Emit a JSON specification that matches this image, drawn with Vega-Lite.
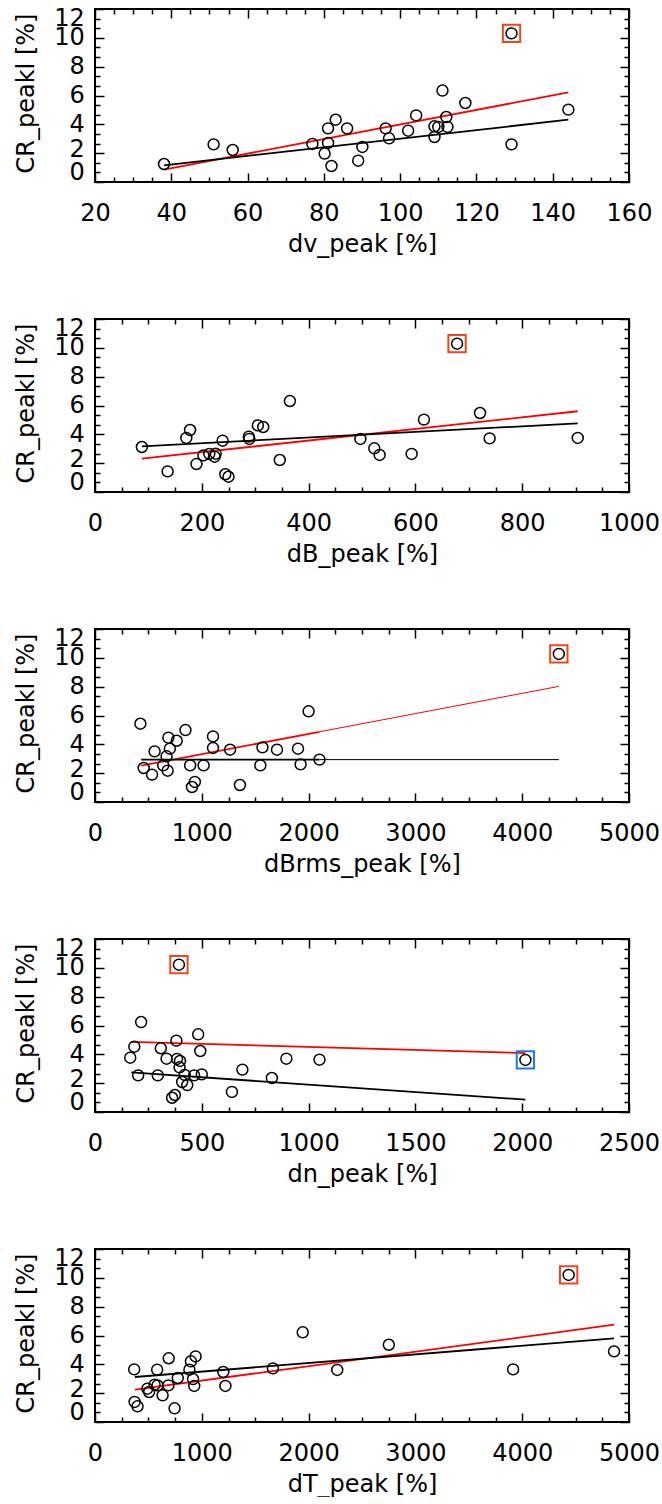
{
"$schema": "https://vega.github.io/schema/vega-lite/v6.json",
"background": "white",
"padding": {"left": 12, "top": 5, "right": 0, "bottom": 0},
"spacing": 137,
"bounds": "flush",
"config": {
 "view": {"stroke": "black", "strokeWidth": 2},
 "axis": {"domain": false, "grid": false, "tickColor": "black", "tickWidth": 1.5, "labelFont": "DejaVu Sans", "labelFontSize": 24, "labelColor": "black", "titleFont": "DejaVu Sans", "titleFontSize": 24, "titleFontWeight": "normal", "titleColor": "black", "format": "d"}
},
"datasets": {
 "p1": [
  {"x":38.1,"y":1.25},{"x":51.1,"y":2.61},{"x":56.1,"y":2.22},{"x":77.0,"y":2.64},{"x":81.1,"y":2.71},{"x":80.2,"y":1.97},{"x":82.0,"y":1.11},{"x":81.1,"y":3.72},{"x":83.1,"y":4.32},{"x":86.1,"y":3.72},{"x":89.0,"y":1.48},{"x":90.1,"y":2.43},{"x":96.2,"y":3.72},{"x":97.1,"y":3.03},{"x":102.1,"y":3.56},{"x":104.2,"y":4.62},{"x":109.0,"y":3.12},{"x":109.0,"y":3.86},{"x":110.0,"y":3.82},{"x":112.4,"y":3.82},{"x":112.1,"y":4.51},{"x":111.1,"y":6.34},{"x":117.1,"y":5.48},{"x":129.2,"y":10.31,"flag":"red"},{"x":129.2,"y":2.61},{"x":144.1,"y":5.02}
 ],
 "l1": [
  {"fit":"red","part":"data","x":38.1,"y":0.86},{"fit":"red","part":"data","x":144.1,"y":6.22},
  {"fit":"black","part":"data","x":38.1,"y":1.16},{"fit":"black","part":"data","x":144.1,"y":4.32}
 ],
 "p2": [
  {"x":87.8,"y":3.12},{"x":136,"y":1.43},{"x":171,"y":3.75},{"x":178,"y":4.30},{"x":190,"y":1.94},{"x":203,"y":2.54},{"x":214,"y":2.64},{"x":224,"y":2.45},{"x":226,"y":2.66},{"x":239,"y":3.56},{"x":244,"y":1.23},{"x":250,"y":1.06},{"x":288,"y":3.84},{"x":289,"y":3.68},{"x":305,"y":4.62},{"x":315,"y":4.51},{"x":346,"y":2.22},{"x":365,"y":6.31},{"x":497,"y":3.68},{"x":523,"y":3.03},{"x":533,"y":2.57},{"x":593,"y":2.64},{"x":616,"y":5.02},{"x":678,"y":10.29,"flag":"red"},{"x":721,"y":5.48},{"x":739,"y":3.72},{"x":904,"y":3.75}
 ],
 "l2": [
  {"fit":"red","part":"data","x":87.8,"y":2.31},{"fit":"red","part":"data","x":904,"y":5.60},
  {"fit":"black","part":"data","x":87.8,"y":3.17},{"fit":"black","part":"data","x":904,"y":4.76}
 ],
 "p3": [
  {"x":425,"y":5.43},{"x":456,"y":2.36},{"x":534,"y":1.90},{"x":558,"y":3.51},{"x":639,"y":2.54},{"x":670,"y":3.17},{"x":680,"y":2.17},{"x":687,"y":4.46},{"x":701,"y":3.70},{"x":765,"y":4.25},{"x":847,"y":4.99},{"x":891,"y":2.54},{"x":908,"y":1.04},{"x":935,"y":1.39},{"x":1017,"y":2.54},{"x":1105,"y":4.55},{"x":1105,"y":3.75},{"x":1265,"y":3.63},{"x":1357,"y":1.18},{"x":1548,"y":2.54},{"x":1568,"y":3.79},{"x":1704,"y":3.63},{"x":1901,"y":3.70},{"x":1925,"y":2.61},{"x":2000,"y":6.29},{"x":2102,"y":2.94},{"x":4343,"y":10.27,"flag":"red"}
 ],
 "l3": [
  {"fit":"red","part":"data","x":432,"y":2.52},{"fit":"red","part":"data","x":2102,"y":4.87},
  {"fit":"red","part":"full","x":2102,"y":4.87},{"fit":"red","part":"full","x":4343,"y":8.02},
  {"fit":"black","part":"data","x":432,"y":2.94},{"fit":"black","part":"data","x":2102,"y":2.94},
  {"fit":"black","part":"full","x":2102,"y":2.94},{"fit":"black","part":"full","x":4343,"y":2.94}
 ],
 "p4": [
  {"x":165,"y":3.77},{"x":184,"y":4.53},{"x":202,"y":2.54},{"x":216,"y":6.24},{"x":294,"y":2.54},{"x":308,"y":4.42},{"x":335,"y":3.70},{"x":361,"y":0.99},{"x":374,"y":1.18},{"x":381,"y":4.95},{"x":384,"y":3.68},{"x":393,"y":10.22,"flag":"red"},{"x":398,"y":3.54},{"x":396,"y":3.10},{"x":408,"y":2.08},{"x":420,"y":2.57},{"x":432,"y":1.87},{"x":464,"y":2.54},{"x":483,"y":5.39},{"x":493,"y":4.23},{"x":500,"y":2.61},{"x":641,"y":1.39},{"x":690,"y":2.94},{"x":828,"y":2.36},{"x":896,"y":3.70},{"x":1051,"y":3.63},{"x":2015,"y":3.61,"flag":"blue"}
 ],
 "l4": [
  {"fit":"red","part":"data","x":170,"y":4.86},{"fit":"red","part":"data","x":2015,"y":4.09},
  {"fit":"black","part":"data","x":170,"y":2.75},{"fit":"black","part":"data","x":2015,"y":0.86}
 ],
 "p5": [
  {"x":367,"y":3.65},{"x":371,"y":1.39},{"x":398,"y":1.09},{"x":490,"y":2.31},{"x":507,"y":2.08},{"x":558,"y":2.59},{"x":585,"y":2.54},{"x":582,"y":3.63},{"x":633,"y":1.85},{"x":687,"y":2.54},{"x":690,"y":4.42},{"x":745,"y":0.95},{"x":775,"y":3.05},{"x":884,"y":3.63},{"x":898,"y":4.21},{"x":918,"y":2.98},{"x":929,"y":2.50},{"x":942,"y":4.55},{"x":1201,"y":3.47},{"x":1221,"y":2.50},{"x":1666,"y":3.72},{"x":1945,"y":6.22},{"x":2268,"y":3.61},{"x":2751,"y":5.36},{"x":3915,"y":3.65},{"x":4435,"y":10.20,"flag":"red"},{"x":4860,"y":4.90}
 ],
 "l5": [
  {"fit":"red","part":"data","x":374,"y":2.24},{"fit":"red","part":"data","x":4860,"y":6.75},
  {"fit":"black","part":"data","x":374,"y":3.12},{"fit":"black","part":"data","x":4860,"y":5.80}
 ]
},
"vconcat": [
 {
  "width": 534, "height": 173,
  "resolve": {"axis": {"x": "independent", "y": "independent"}},
  "layer": [
   {"data": {"name": "l1"}, "transform": [{"filter": "datum.fit == 'red'"}],
    "mark": {"type": "line", "color": "#ff0000"},
    "encoding": {
     "x": {"field": "x", "type": "quantitative", "scale": {"domain": [20, 160], "nice": false, "zero": false}, "axis": {"orient": "bottom", "values": [25,30,35,45,50,55,65,70,75,85,90,95,105,110,115,125,130,135,145,150,155], "tickSize": -5, "labels": false, "title": null}},
     "y": {"field": "y", "type": "quantitative", "scale": {"domain": [0, 12], "nice": false, "zero": false}, "axis": {"orient": "left", "values": [0.6667,1.3333,2.6667,3.3333,4.6667,5.3333,6.6667,7.3333,8.6667,9.3333,10.6667,11.3333], "tickSize": -5, "labels": false, "title": null}},
     "strokeWidth": {"field": "part", "type": "nominal", "scale": {"domain": ["data", "full"], "range": [1.8, 1]}, "legend": null}
    }},
   {"data": {"name": "l1"}, "transform": [{"filter": "datum.fit == 'black'"}],
    "mark": {"type": "line", "color": "#000000"},
    "encoding": {
     "x": {"field": "x", "type": "quantitative", "scale": {"domain": [20, 160], "nice": false, "zero": false}, "axis": {"orient": "top", "values": [20,40,60,80,100,120,140,160], "tickSize": -9, "labels": false, "title": null}},
     "y": {"field": "y", "type": "quantitative", "scale": {"domain": [0, 12], "nice": false, "zero": false}, "axis": {"orient": "right", "values": [0,2,4,6,8,10,12], "tickSize": -9, "labels": false, "title": null}},
     "strokeWidth": {"field": "part", "type": "nominal", "scale": {"domain": ["data", "full"], "range": [1.8, 1]}, "legend": null}
    }},
   {"data": {"name": "p1"},
    "mark": {"type": "point", "shape": "circle", "filled": false, "color": "#000000", "opacity": 1, "strokeWidth": 1.5, "size": 120},
    "encoding": {
     "x": {"field": "x", "type": "quantitative", "scale": {"domain": [20, 160], "nice": false, "zero": false}, "axis": {"orient": "bottom", "values": [20,40,60,80,100,120,140,160], "tickSize": -9, "labelPadding": 28.5, "labelFlush": false, "labelOverlap": false, "labelBound": false, "title": "dv_peak [%]", "titleY": 50, "titleBaseline": "top"}},
     "y": {"field": "y", "type": "quantitative", "scale": {"domain": [0, 12], "nice": false, "zero": false}, "axis": {"orient": "left", "values": [0,2,4,6,8,10,12], "tickSize": -9, "labelPadding": 19.7, "labelOffset": {"expr": "datum.value==12 ? 9 : datum.value==0 ? -10 : datum.value==2 ? -4 : 0"}, "labelOverlap": false, "title": "CR_peakl [%]", "titleX": -62, "titleY": 84, "titleAngle": -90, "titleAlign": "center", "titleBaseline": "alphabetic"}}
    }},
   {"data": {"name": "p1"}, "transform": [{"filter": "isValid(datum.flag)"}],
    "mark": {"type": "point", "shape": "square", "filled": false, "opacity": 1, "strokeWidth": 2, "size": 300},
    "encoding": {
     "x": {"field": "x", "type": "quantitative", "scale": {"domain": [20, 160], "nice": false, "zero": false}, "axis": {"orient": "top", "values": [25,30,35,45,50,55,65,70,75,85,90,95,105,110,115,125,130,135,145,150,155], "tickSize": -5, "labels": false, "title": null}},
     "y": {"field": "y", "type": "quantitative", "scale": {"domain": [0, 12], "nice": false, "zero": false}, "axis": {"orient": "right", "values": [0.6667,1.3333,2.6667,3.3333,4.6667,5.3333,6.6667,7.3333,8.6667,9.3333,10.6667,11.3333], "tickSize": -5, "labels": false, "title": null}},
     "color": {"field": "flag", "type": "nominal", "scale": {"domain": ["red", "blue"], "range": ["#f2441d", "#1f77f0"]}, "legend": null}
    }}
  ]
 },
 {
  "width": 534, "height": 173,
  "resolve": {"axis": {"x": "independent", "y": "independent"}},
  "layer": [
   {"data": {"name": "l2"}, "transform": [{"filter": "datum.fit == 'red'"}],
    "mark": {"type": "line", "color": "#ff0000"},
    "encoding": {
     "x": {"field": "x", "type": "quantitative", "scale": {"domain": [0, 1000], "nice": false, "zero": false}, "axis": {"orient": "bottom", "values": [50,100,150,250,300,350,450,500,550,650,700,750,850,900,950], "tickSize": -5, "labels": false, "title": null}},
     "y": {"field": "y", "type": "quantitative", "scale": {"domain": [0, 12], "nice": false, "zero": false}, "axis": {"orient": "left", "values": [0.6667,1.3333,2.6667,3.3333,4.6667,5.3333,6.6667,7.3333,8.6667,9.3333,10.6667,11.3333], "tickSize": -5, "labels": false, "title": null}},
     "strokeWidth": {"field": "part", "type": "nominal", "scale": {"domain": ["data", "full"], "range": [1.8, 1]}, "legend": null}
    }},
   {"data": {"name": "l2"}, "transform": [{"filter": "datum.fit == 'black'"}],
    "mark": {"type": "line", "color": "#000000"},
    "encoding": {
     "x": {"field": "x", "type": "quantitative", "scale": {"domain": [0, 1000], "nice": false, "zero": false}, "axis": {"orient": "top", "values": [0,200,400,600,800,1000], "tickSize": -9, "labels": false, "title": null}},
     "y": {"field": "y", "type": "quantitative", "scale": {"domain": [0, 12], "nice": false, "zero": false}, "axis": {"orient": "right", "values": [0,2,4,6,8,10,12], "tickSize": -9, "labels": false, "title": null}},
     "strokeWidth": {"field": "part", "type": "nominal", "scale": {"domain": ["data", "full"], "range": [1.8, 1]}, "legend": null}
    }},
   {"data": {"name": "p2"},
    "mark": {"type": "point", "shape": "circle", "filled": false, "color": "#000000", "opacity": 1, "strokeWidth": 1.5, "size": 120},
    "encoding": {
     "x": {"field": "x", "type": "quantitative", "scale": {"domain": [0, 1000], "nice": false, "zero": false}, "axis": {"orient": "bottom", "values": [0,200,400,600,800,1000], "tickSize": -9, "labelPadding": 28.5, "labelFlush": false, "labelOverlap": false, "labelBound": false, "title": "dB_peak [%]", "titleY": 50, "titleBaseline": "top"}},
     "y": {"field": "y", "type": "quantitative", "scale": {"domain": [0, 12], "nice": false, "zero": false}, "axis": {"orient": "left", "values": [0,2,4,6,8,10,12], "tickSize": -9, "labelPadding": 19.7, "labelOffset": {"expr": "datum.value==12 ? 9 : datum.value==0 ? -10 : datum.value==2 ? -4 : 0"}, "labelOverlap": false, "title": "CR_peakl [%]", "titleX": -62, "titleY": 84, "titleAngle": -90, "titleAlign": "center", "titleBaseline": "alphabetic"}}
    }},
   {"data": {"name": "p2"}, "transform": [{"filter": "isValid(datum.flag)"}],
    "mark": {"type": "point", "shape": "square", "filled": false, "opacity": 1, "strokeWidth": 2, "size": 300},
    "encoding": {
     "x": {"field": "x", "type": "quantitative", "scale": {"domain": [0, 1000], "nice": false, "zero": false}, "axis": {"orient": "top", "values": [50,100,150,250,300,350,450,500,550,650,700,750,850,900,950], "tickSize": -5, "labels": false, "title": null}},
     "y": {"field": "y", "type": "quantitative", "scale": {"domain": [0, 12], "nice": false, "zero": false}, "axis": {"orient": "right", "values": [0.6667,1.3333,2.6667,3.3333,4.6667,5.3333,6.6667,7.3333,8.6667,9.3333,10.6667,11.3333], "tickSize": -5, "labels": false, "title": null}},
     "color": {"field": "flag", "type": "nominal", "scale": {"domain": ["red", "blue"], "range": ["#f2441d", "#1f77f0"]}, "legend": null}
    }}
  ]
 },
 {
  "width": 534, "height": 173,
  "resolve": {"axis": {"x": "independent", "y": "independent"}},
  "layer": [
   {"data": {"name": "l3"}, "transform": [{"filter": "datum.fit == 'red'"}],
    "mark": {"type": "line", "color": "#ff0000"},
    "encoding": {
     "x": {"field": "x", "type": "quantitative", "scale": {"domain": [0, 5000], "nice": false, "zero": false}, "axis": {"orient": "bottom", "values": [250,500,750,1250,1500,1750,2250,2500,2750,3250,3500,3750,4250,4500,4750], "tickSize": -5, "labels": false, "title": null}},
     "y": {"field": "y", "type": "quantitative", "scale": {"domain": [0, 12], "nice": false, "zero": false}, "axis": {"orient": "left", "values": [0.6667,1.3333,2.6667,3.3333,4.6667,5.3333,6.6667,7.3333,8.6667,9.3333,10.6667,11.3333], "tickSize": -5, "labels": false, "title": null}},
     "strokeWidth": {"field": "part", "type": "nominal", "scale": {"domain": ["data", "full"], "range": [1.8, 1]}, "legend": null}
    }},
   {"data": {"name": "l3"}, "transform": [{"filter": "datum.fit == 'black'"}],
    "mark": {"type": "line", "color": "#000000"},
    "encoding": {
     "x": {"field": "x", "type": "quantitative", "scale": {"domain": [0, 5000], "nice": false, "zero": false}, "axis": {"orient": "top", "values": [0,1000,2000,3000,4000,5000], "tickSize": -9, "labels": false, "title": null}},
     "y": {"field": "y", "type": "quantitative", "scale": {"domain": [0, 12], "nice": false, "zero": false}, "axis": {"orient": "right", "values": [0,2,4,6,8,10,12], "tickSize": -9, "labels": false, "title": null}},
     "strokeWidth": {"field": "part", "type": "nominal", "scale": {"domain": ["data", "full"], "range": [1.8, 1]}, "legend": null}
    }},
   {"data": {"name": "p3"},
    "mark": {"type": "point", "shape": "circle", "filled": false, "color": "#000000", "opacity": 1, "strokeWidth": 1.5, "size": 120},
    "encoding": {
     "x": {"field": "x", "type": "quantitative", "scale": {"domain": [0, 5000], "nice": false, "zero": false}, "axis": {"orient": "bottom", "values": [0,1000,2000,3000,4000,5000], "tickSize": -9, "labelPadding": 28.5, "labelFlush": false, "labelOverlap": false, "labelBound": false, "title": "dBrms_peak [%]", "titleY": 50, "titleBaseline": "top"}},
     "y": {"field": "y", "type": "quantitative", "scale": {"domain": [0, 12], "nice": false, "zero": false}, "axis": {"orient": "left", "values": [0,2,4,6,8,10,12], "tickSize": -9, "labelPadding": 19.7, "labelOffset": {"expr": "datum.value==12 ? 9 : datum.value==0 ? -10 : datum.value==2 ? -4 : 0"}, "labelOverlap": false, "title": "CR_peakl [%]", "titleX": -62, "titleY": 84, "titleAngle": -90, "titleAlign": "center", "titleBaseline": "alphabetic"}}
    }},
   {"data": {"name": "p3"}, "transform": [{"filter": "isValid(datum.flag)"}],
    "mark": {"type": "point", "shape": "square", "filled": false, "opacity": 1, "strokeWidth": 2, "size": 300},
    "encoding": {
     "x": {"field": "x", "type": "quantitative", "scale": {"domain": [0, 5000], "nice": false, "zero": false}, "axis": {"orient": "top", "values": [250,500,750,1250,1500,1750,2250,2500,2750,3250,3500,3750,4250,4500,4750], "tickSize": -5, "labels": false, "title": null}},
     "y": {"field": "y", "type": "quantitative", "scale": {"domain": [0, 12], "nice": false, "zero": false}, "axis": {"orient": "right", "values": [0.6667,1.3333,2.6667,3.3333,4.6667,5.3333,6.6667,7.3333,8.6667,9.3333,10.6667,11.3333], "tickSize": -5, "labels": false, "title": null}},
     "color": {"field": "flag", "type": "nominal", "scale": {"domain": ["red", "blue"], "range": ["#f2441d", "#1f77f0"]}, "legend": null}
    }}
  ]
 },
 {
  "width": 534, "height": 173,
  "resolve": {"axis": {"x": "independent", "y": "independent"}},
  "layer": [
   {"data": {"name": "l4"}, "transform": [{"filter": "datum.fit == 'red'"}],
    "mark": {"type": "line", "color": "#ff0000"},
    "encoding": {
     "x": {"field": "x", "type": "quantitative", "scale": {"domain": [0, 2500], "nice": false, "zero": false}, "axis": {"orient": "bottom", "values": [125,250,375,625,750,875,1125,1250,1375,1625,1750,1875,2125,2250,2375], "tickSize": -5, "labels": false, "title": null}},
     "y": {"field": "y", "type": "quantitative", "scale": {"domain": [0, 12], "nice": false, "zero": false}, "axis": {"orient": "left", "values": [0.6667,1.3333,2.6667,3.3333,4.6667,5.3333,6.6667,7.3333,8.6667,9.3333,10.6667,11.3333], "tickSize": -5, "labels": false, "title": null}},
     "strokeWidth": {"field": "part", "type": "nominal", "scale": {"domain": ["data", "full"], "range": [1.8, 1]}, "legend": null}
    }},
   {"data": {"name": "l4"}, "transform": [{"filter": "datum.fit == 'black'"}],
    "mark": {"type": "line", "color": "#000000"},
    "encoding": {
     "x": {"field": "x", "type": "quantitative", "scale": {"domain": [0, 2500], "nice": false, "zero": false}, "axis": {"orient": "top", "values": [0,500,1000,1500,2000,2500], "tickSize": -9, "labels": false, "title": null}},
     "y": {"field": "y", "type": "quantitative", "scale": {"domain": [0, 12], "nice": false, "zero": false}, "axis": {"orient": "right", "values": [0,2,4,6,8,10,12], "tickSize": -9, "labels": false, "title": null}},
     "strokeWidth": {"field": "part", "type": "nominal", "scale": {"domain": ["data", "full"], "range": [1.8, 1]}, "legend": null}
    }},
   {"data": {"name": "p4"},
    "mark": {"type": "point", "shape": "circle", "filled": false, "color": "#000000", "opacity": 1, "strokeWidth": 1.5, "size": 120},
    "encoding": {
     "x": {"field": "x", "type": "quantitative", "scale": {"domain": [0, 2500], "nice": false, "zero": false}, "axis": {"orient": "bottom", "values": [0,500,1000,1500,2000,2500], "tickSize": -9, "labelPadding": 28.5, "labelFlush": false, "labelOverlap": false, "labelBound": false, "title": "dn_peak [%]", "titleY": 50, "titleBaseline": "top"}},
     "y": {"field": "y", "type": "quantitative", "scale": {"domain": [0, 12], "nice": false, "zero": false}, "axis": {"orient": "left", "values": [0,2,4,6,8,10,12], "tickSize": -9, "labelPadding": 19.7, "labelOffset": {"expr": "datum.value==12 ? 9 : datum.value==0 ? -10 : datum.value==2 ? -4 : 0"}, "labelOverlap": false, "title": "CR_peakl [%]", "titleX": -62, "titleY": 84, "titleAngle": -90, "titleAlign": "center", "titleBaseline": "alphabetic"}}
    }},
   {"data": {"name": "p4"}, "transform": [{"filter": "isValid(datum.flag)"}],
    "mark": {"type": "point", "shape": "square", "filled": false, "opacity": 1, "strokeWidth": 2, "size": 300},
    "encoding": {
     "x": {"field": "x", "type": "quantitative", "scale": {"domain": [0, 2500], "nice": false, "zero": false}, "axis": {"orient": "top", "values": [125,250,375,625,750,875,1125,1250,1375,1625,1750,1875,2125,2250,2375], "tickSize": -5, "labels": false, "title": null}},
     "y": {"field": "y", "type": "quantitative", "scale": {"domain": [0, 12], "nice": false, "zero": false}, "axis": {"orient": "right", "values": [0.6667,1.3333,2.6667,3.3333,4.6667,5.3333,6.6667,7.3333,8.6667,9.3333,10.6667,11.3333], "tickSize": -5, "labels": false, "title": null}},
     "color": {"field": "flag", "type": "nominal", "scale": {"domain": ["red", "blue"], "range": ["#f2441d", "#1f77f0"]}, "legend": null}
    }}
  ]
 },
 {
  "width": 534, "height": 173,
  "resolve": {"axis": {"x": "independent", "y": "independent"}},
  "layer": [
   {"data": {"name": "l5"}, "transform": [{"filter": "datum.fit == 'red'"}],
    "mark": {"type": "line", "color": "#ff0000"},
    "encoding": {
     "x": {"field": "x", "type": "quantitative", "scale": {"domain": [0, 5000], "nice": false, "zero": false}, "axis": {"orient": "bottom", "values": [250,500,750,1250,1500,1750,2250,2500,2750,3250,3500,3750,4250,4500,4750], "tickSize": -5, "labels": false, "title": null}},
     "y": {"field": "y", "type": "quantitative", "scale": {"domain": [0, 12], "nice": false, "zero": false}, "axis": {"orient": "left", "values": [0.6667,1.3333,2.6667,3.3333,4.6667,5.3333,6.6667,7.3333,8.6667,9.3333,10.6667,11.3333], "tickSize": -5, "labels": false, "title": null}},
     "strokeWidth": {"field": "part", "type": "nominal", "scale": {"domain": ["data", "full"], "range": [1.8, 1]}, "legend": null}
    }},
   {"data": {"name": "l5"}, "transform": [{"filter": "datum.fit == 'black'"}],
    "mark": {"type": "line", "color": "#000000"},
    "encoding": {
     "x": {"field": "x", "type": "quantitative", "scale": {"domain": [0, 5000], "nice": false, "zero": false}, "axis": {"orient": "top", "values": [0,1000,2000,3000,4000,5000], "tickSize": -9, "labels": false, "title": null}},
     "y": {"field": "y", "type": "quantitative", "scale": {"domain": [0, 12], "nice": false, "zero": false}, "axis": {"orient": "right", "values": [0,2,4,6,8,10,12], "tickSize": -9, "labels": false, "title": null}},
     "strokeWidth": {"field": "part", "type": "nominal", "scale": {"domain": ["data", "full"], "range": [1.8, 1]}, "legend": null}
    }},
   {"data": {"name": "p5"},
    "mark": {"type": "point", "shape": "circle", "filled": false, "color": "#000000", "opacity": 1, "strokeWidth": 1.5, "size": 120},
    "encoding": {
     "x": {"field": "x", "type": "quantitative", "scale": {"domain": [0, 5000], "nice": false, "zero": false}, "axis": {"orient": "bottom", "values": [0,1000,2000,3000,4000,5000], "tickSize": -9, "labelPadding": 28.5, "labelFlush": false, "labelOverlap": false, "labelBound": false, "title": "dT_peak [%]", "titleY": 50, "titleBaseline": "top"}},
     "y": {"field": "y", "type": "quantitative", "scale": {"domain": [0, 12], "nice": false, "zero": false}, "axis": {"orient": "left", "values": [0,2,4,6,8,10,12], "tickSize": -9, "labelPadding": 19.7, "labelOffset": {"expr": "datum.value==12 ? 9 : datum.value==0 ? -10 : datum.value==2 ? -4 : 0"}, "labelOverlap": false, "title": "CR_peakl [%]", "titleX": -62, "titleY": 84, "titleAngle": -90, "titleAlign": "center", "titleBaseline": "alphabetic"}}
    }},
   {"data": {"name": "p5"}, "transform": [{"filter": "isValid(datum.flag)"}],
    "mark": {"type": "point", "shape": "square", "filled": false, "opacity": 1, "strokeWidth": 2, "size": 300},
    "encoding": {
     "x": {"field": "x", "type": "quantitative", "scale": {"domain": [0, 5000], "nice": false, "zero": false}, "axis": {"orient": "top", "values": [250,500,750,1250,1500,1750,2250,2500,2750,3250,3500,3750,4250,4500,4750], "tickSize": -5, "labels": false, "title": null}},
     "y": {"field": "y", "type": "quantitative", "scale": {"domain": [0, 12], "nice": false, "zero": false}, "axis": {"orient": "right", "values": [0.6667,1.3333,2.6667,3.3333,4.6667,5.3333,6.6667,7.3333,8.6667,9.3333,10.6667,11.3333], "tickSize": -5, "labels": false, "title": null}},
     "color": {"field": "flag", "type": "nominal", "scale": {"domain": ["red", "blue"], "range": ["#f2441d", "#1f77f0"]}, "legend": null}
    }}
  ]
 }
]
}
